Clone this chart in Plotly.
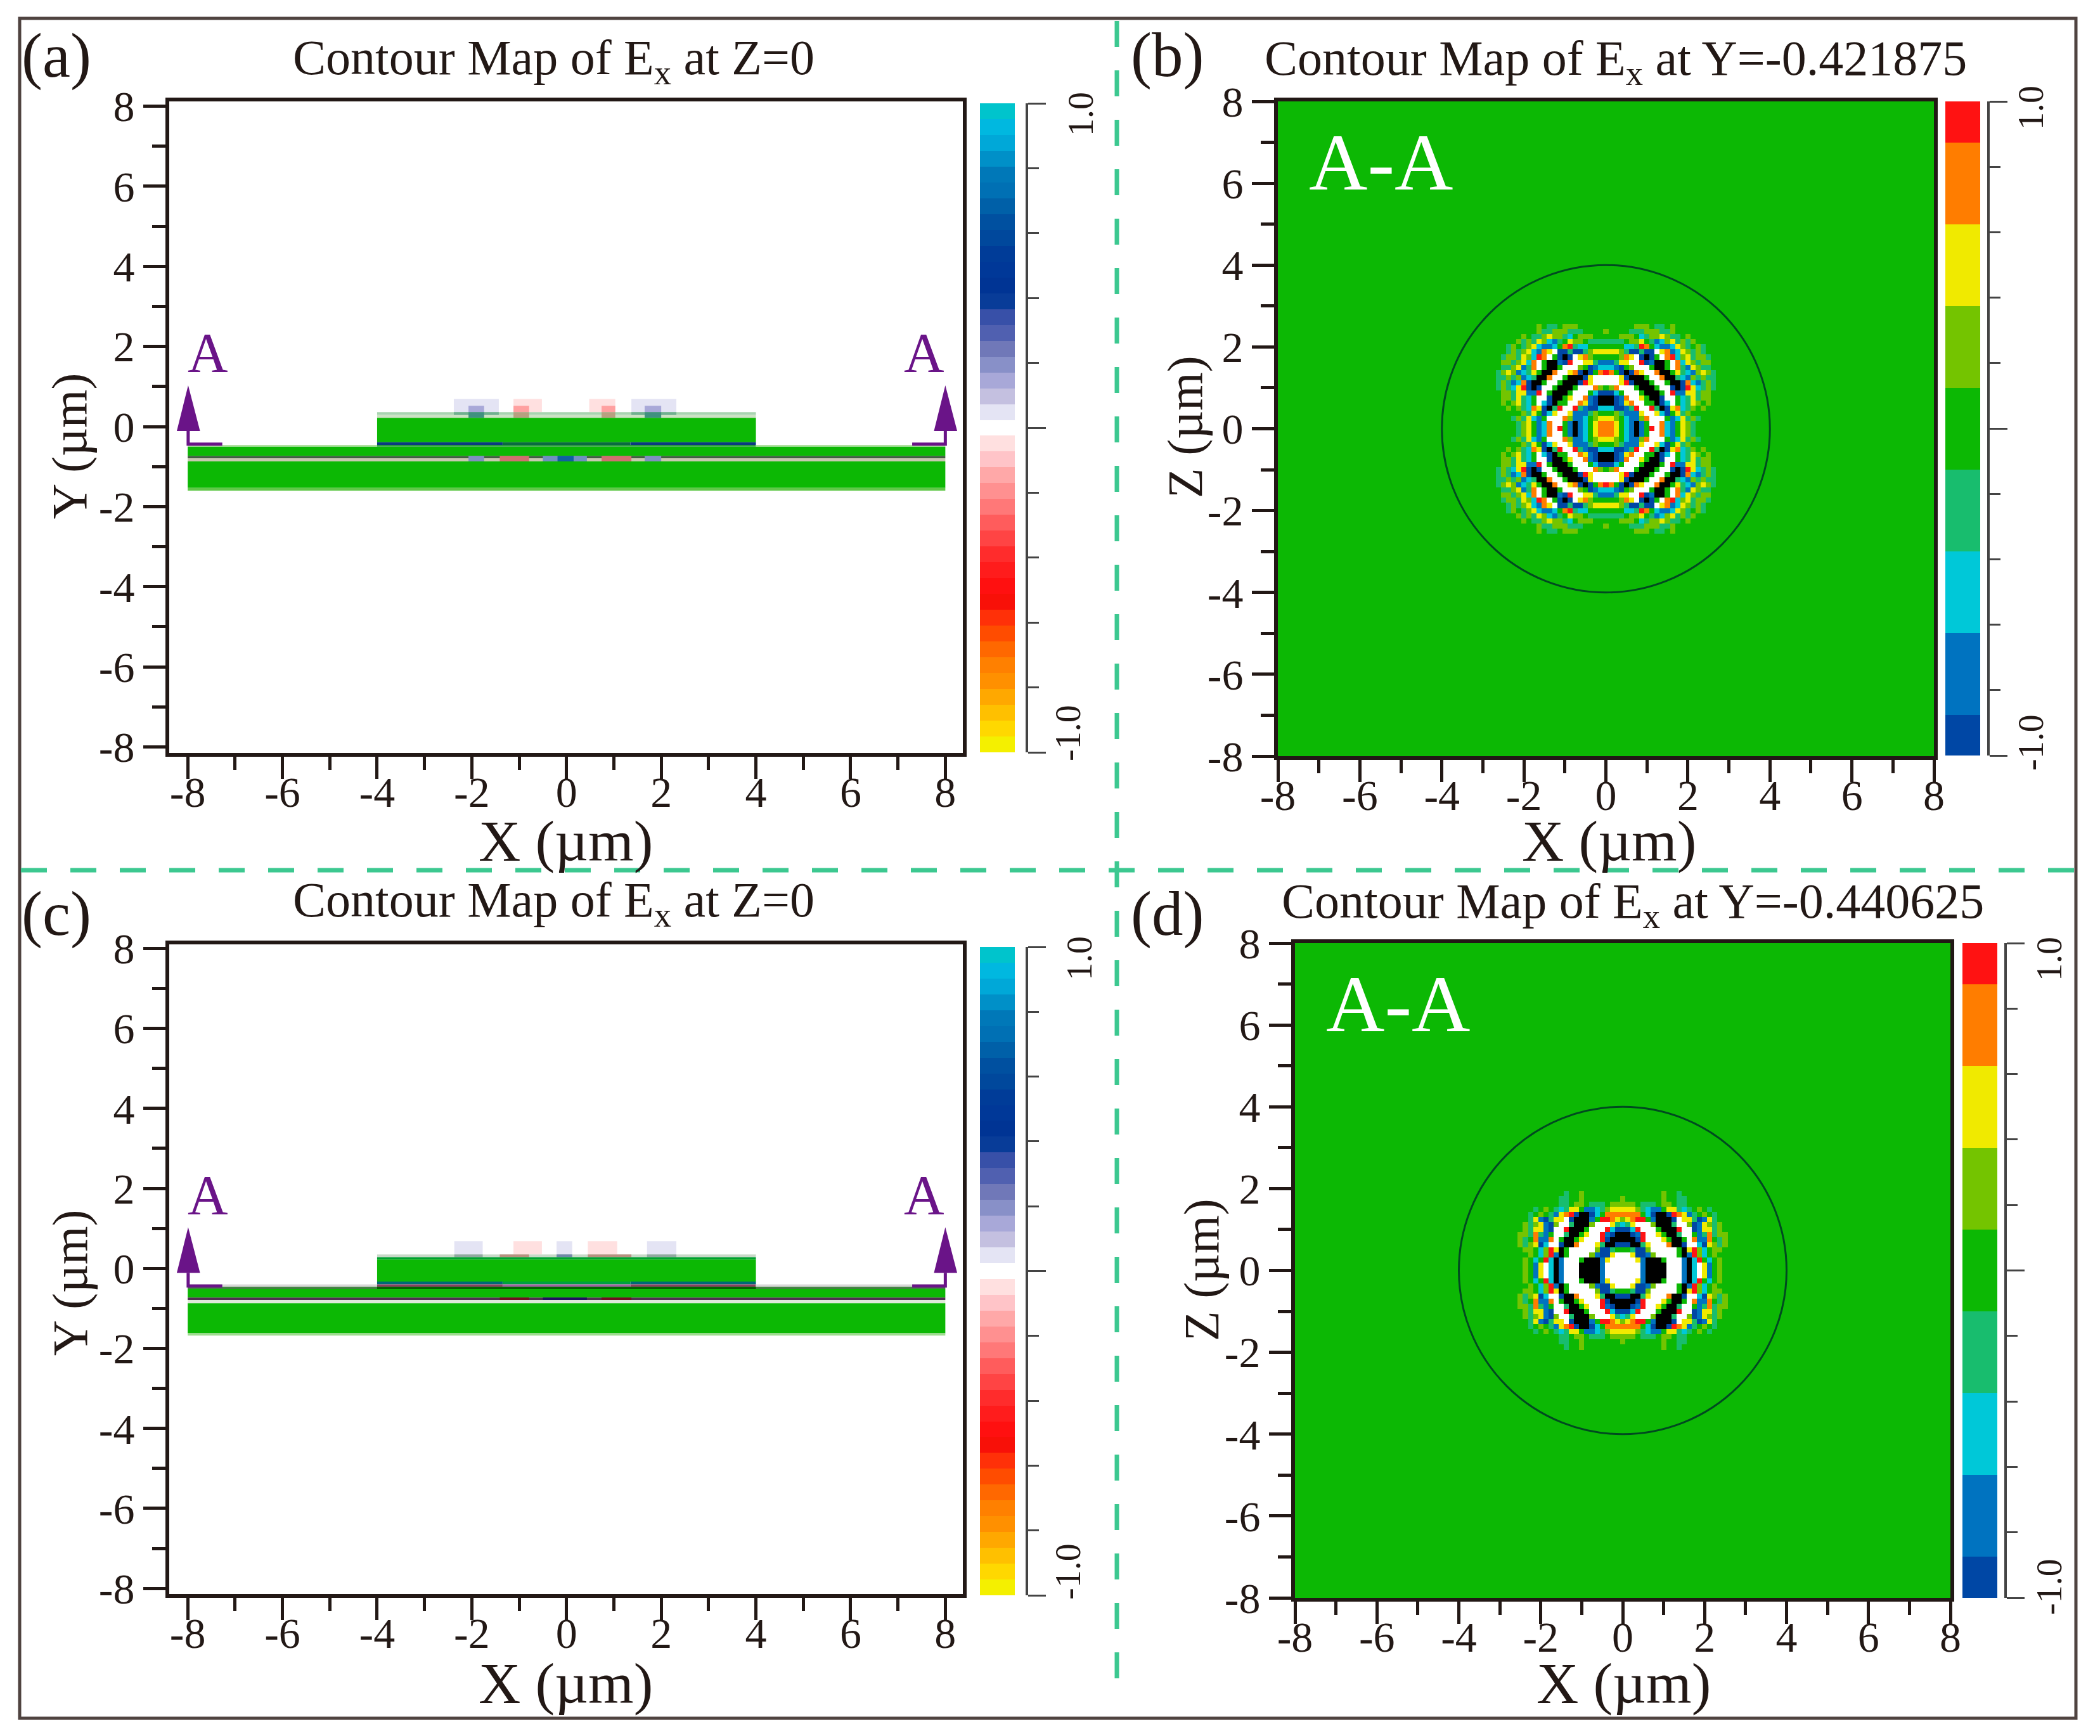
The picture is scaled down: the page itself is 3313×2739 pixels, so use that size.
import plotly.graph_objects as go

W, H = 3313, 2739
FONT = "Liberation Serif"
INK = "#221815"
GREEN = "#0cb804"
PURPLE = "#6a1488"

# ---------- data ----------
TICK_VALS = [-8, -6, -4, -2, 0, 2, 4, 6, 8]
TICK_TEXT = ["-8", "-6", "-4", "-2", "0", "2", "4", "6", "8"]
CELL = 0.125
CIRCLE_R = 4

FIELD_KEYS = {".": 0, "l": 1, "y": 2, "o": 3, "r": 4, "W": 5,
              "t": -1, "c": -2, "b": -3, "n": -4, "K": -5}
FIELD_COLORS = ["#000000", "#0047a5", "#0073c0", "#00c8d8", "#18bd6e", GREEN,
                "#74c400", "#f0ea00", "#ff7d00", "#ff1414", "#ffffff"]

# upper-right quadrant, row 0 is the centre row, column 0 the centre column
QUADRANT_B = [
    "ooy.cbKb.rWocb.ylt....",
    "ooy.cbKb.WWocb.ylt....",
    "yyl.cbbloWWW.bcytlt...",
    "..ltbbbyWWycn.ytl.....",
    "ccnnbtrWWrtKnyoctl.l..",
    "KKnbyoWW..KncW.ctyl.l.",
    "KKnboWWy.KKnWW.ctytll.",
    "nnc.WWW.KKK.Wrbbyytll.",
    ".loWWW.KKK.WWnKnryctlt",
    "WWWyrnKKK.WW.KKnocbtlt",
    "WWWynKKK.WWoKKtcbltltt",
    "ro.nKnoyWWoKK.ytcblylt",
    "ccbn.lWWW.KK.Wotbyltt.",
    "bbtyyWWrnbKK.Wocyltll.",
    "...loyWnKn.Worclytllt.",
    "yyyltnntnnWyobcyltlt..",
    "....cctro.cbbcylt.lt..",
    "tttt.lly.tbclytltl....",
    "...lll.ctllyltt.l.....",
    "l....tttlllttl........",
    "......lll.tt.l........",
]
QUADRANT_D = [
    "WWWWbKKKKWWWbKcWyb.l..",
    "WWWWbKKKKWWWbKcWyb.l..",
    "WWWybKKK.WWWbKcr.c.l..",
    "WWynnblWWWW.Kbrlc.l...",
    "..tnnlWWWWW.Kyrlc.ll..",
    "nnKKtyWWWoKKnWWcnyltl.",
    "KKKnrWWWy.KK.Wobbo.tl.",
    "KKnbrWWy.KKtWW.btotll.",
    "nncrWWW.KKKrWWnbyytl..",
    "ctyWWWlKKKtWWlnbyltl..",
    "lyorr.bKKKnWyytnbyt...",
    "oooo.cnKKnroybt.l.t...",
    "yyyltcbb.yytct.l.t....",
    "lll.ttt.ll.tt.........",
    "l.......l..tt.........",
    "........l..t..........",
]

BAR_LEVELS_RICH = [
    "#00c4cc", "#00b8e0", "#00a8d8", "#0090c8", "#0078b8", "#0070b4", "#0060a8",
    "#0050a0", "#00489c", "#003c98", "#003898", "#003494", "#083c98", "#3850a8",
    "#5060b0", "#7078b8", "#8890c8", "#a8a8d8", "#c4c0e0", "#e4e4f4", "#ffffff",
    "#ffe0e0", "#ffc4c8", "#ffa8a8", "#ff9090", "#ff7878", "#ff5c5c", "#ff4444",
    "#ff2c2c", "#ff1c1c", "#ff1010", "#f81008", "#ff3008", "#ff4c00", "#ff6800",
    "#ff8000", "#ff9000", "#ffa800", "#ffc000", "#ffd800", "#f4f000",
]
BAR_LEVELS_JET = ["#ff1212", "#ff7d00", "#f0ea00", "#74c400", GREEN,
                  "#18bd6e", "#00c8d8", "#0073c0", "#0047a5"]
BAR_EDGES_JET = [1, 0.875, 0.625, 0.375, 0.125, -0.125, -0.375, -0.625, -0.875, -1]

# x0, x1, y0, y1, colour of the device layers
LAYERS_A = [
    (-2.38, -1.43, 0.36, 0.69, "#e4e4f4"), (-1.12, -0.52, 0.36, 0.69, "#ffe0e0"),
    (0.48, 1.03, 0.36, 0.69, "#ffe0e0"), (1.37, 2.32, 0.36, 0.69, "#e4e4f4"),
    (-2.07, -1.74, 0.36, 0.52, "#a8a8d8"), (-1.12, -0.79, 0.36, 0.52, "#ffa0a0"),
    (0.74, 1.03, 0.36, 0.52, "#ffa0a0"), (1.65, 2.0, 0.36, 0.52, "#a8a8d8"),
    (-4, 4, 0.29, 0.36, "#a8d4b0"), (-4, 4, 0.22, 0.29, "#cce2c4"),
    (-2.38, -1.43, 0.29, 0.36, "#70b090"), (1.37, 2.32, 0.29, 0.36, "#70b090"),
    (-2.07, -1.74, 0.22, 0.36, "#409080"), (-1.12, -0.79, 0.22, 0.36, "#b8a080"),
    (0.74, 1.03, 0.22, 0.36, "#b8a080"), (1.65, 2.0, 0.22, 0.36, "#409080"),
    (-4, 4, -0.39, 0.22, GREEN),
    (-4, -1.35, -0.46, -0.39, "#0a3a80"), (-1.35, 1.35, -0.46, -0.39, "#0a6a40"),
    (1.35, 4, -0.46, -0.39, "#0a3a80"),
    (-8, -4, -0.50, -0.46, "#b0e0a0"), (-4, 4, -0.50, -0.46, "#2a9a40"),
    (4, 8, -0.50, -0.46, "#b0e0a0"),
    (-8, 8, -0.73, -0.50, GREEN),
    (-8, 8, -0.79, -0.73, "#406040"), (-8, 8, -0.87, -0.79, "#c8c8b0"),
    (-2.07, -1.74, -0.87, -0.73, "#8090c0"), (-1.41, -0.79, -0.87, -0.73, "#d07070"),
    (-0.5, 0.43, -0.87, -0.73, "#7090c0"), (-0.19, 0.15, -0.87, -0.73, "#1060a0"),
    (0.74, 1.37, -0.87, -0.73, "#d07070"), (1.65, 2.0, -0.87, -0.73, "#8090c0"),
    (-8, 8, -1.53, -0.87, GREEN), (-8, 8, -1.60, -1.53, "#60c848"),
]
LAYERS_C = [
    (-2.37, -1.77, 0.35, 0.68, "#e4e4f4"), (-1.12, -0.52, 0.35, 0.68, "#ffe0e0"),
    (-0.21, 0.12, 0.35, 0.68, "#e4e4f4"), (0.45, 1.07, 0.35, 0.68, "#ffe0e0"),
    (1.70, 2.32, 0.35, 0.68, "#e4e4f4"),
    (-4, 4, 0.28, 0.35, "#c8d8c8"),
    (-2.37, -1.77, 0.28, 0.35, "#90a8a0"), (-1.41, -0.79, 0.28, 0.35, "#b89080"),
    (-0.21, 0.12, 0.28, 0.35, "#7088a8"), (0.45, 1.37, 0.28, 0.35, "#b89080"),
    (1.70, 2.32, 0.28, 0.35, "#90a8a0"),
    (-4, 4, 0.22, 0.28, "#00a030"),
    (-4, 4, -0.33, 0.22, GREEN),
    (-4, -1.35, -0.40, -0.33, "#006878"), (-1.35, 1.35, -0.40, -0.33, "#00a040"),
    (1.35, 4, -0.40, -0.33, "#006878"),
    (-8, -4, -0.46, -0.40, "#d8d8d8"), (-4, -1.35, -0.46, -0.40, "#8a4060"),
    (-1.35, 1.35, -0.46, -0.40, "#a060a0"), (1.35, 4, -0.46, -0.40, "#8a4060"),
    (4, 8, -0.46, -0.40, "#d8d8d8"),
    (-8, 8, -0.52, -0.46, "#408040"), (-4, 4, -0.52, -0.46, "#006000"),
    (-8, 8, -0.73, -0.52, GREEN),
    (-8, 8, -0.79, -0.73, "#503050"), (-8, 8, -0.87, -0.79, "#e0e8d8"),
    (-0.5, 0.43, -0.79, -0.73, "#201060"), (-1.41, -0.79, -0.79, -0.73, "#701020"),
    (0.74, 1.37, -0.79, -0.73, "#701020"),
    (-8, 8, -1.62, -0.87, GREEN), (-8, 8, -1.68, -1.62, "#a0dc90"),
]

ARROW_HEAD_LEFT_X = [-8.23, -7.99, -7.74, -8.23]
ARROW_HEAD_RIGHT_X = [7.76, 8.0, 8.25, 7.76]
ARROW_HEAD_Y = [-0.11, 1.03, -0.11, -0.11]
ARROW_ARM_LEFT_X = [-7.27, -7.99, -7.99]
ARROW_ARM_RIGHT_X = [7.3, 8.0, 8.0]
ARROW_ARM_Y = [-0.44, -0.44, -0.11]


# ---------- helpers ----------
def fx(p):
    return p / W


def fy(p):
    return 1 - p / H


def step_scale(colors):
    n = len(colors)
    out = []
    for i, c in enumerate(colors):
        out += [[i / n, c], [(i + 1) / n, c]]
    return out


def expand(quadrant, half=64):
    size = 2 * half + 1
    grid = [[0] * size for _ in range(size)]
    for r, row in enumerate(quadrant):
        for c, ch in enumerate(row):
            v = FIELD_KEYS[ch]
            for sr in (-r, r):
                for sc in (-c, c):
                    grid[half + sr][half + sc] = v
    return grid


fig = go.Figure()
layout = {}
annotations = []
shapes = []
axis_no = [0]


def main_axes(x0, x1, y0, y1, xr, yr):
    axis_no[0] += 1
    n = axis_no[0]
    common = dict(
        showgrid=False, zeroline=False, showline=True, mirror=True, linewidth=6,
        linecolor=INK, ticks="outside", ticklen=35, tickwidth=5, tickcolor=INK,
        tickmode="array", tickvals=TICK_VALS, ticktext=TICK_TEXT,
        tickfont=dict(family=FONT, size=68, color=INK),
        minor=dict(ticks="outside", ticklen=21, tickwidth=5, tickcolor=INK,
                   tickmode="linear", tick0=0, dtick=1, showgrid=False),
        automargin=False,
    )
    layout[f"xaxis{n}"] = dict(common, domain=[fx(x0), fx(x1)], range=xr, anchor=f"y{n}",
                               ticklabelstandoff=-38)
    layout[f"yaxis{n}"] = dict(common, domain=[fy(y1), fy(y0)], range=yr, anchor=f"x{n}")
    return f"x{n}", f"y{n}"


def bar_axes(x0, x1, y0, y1, axis_x):
    axis_no[0] += 1
    n = axis_no[0]
    layout[f"xaxis{n}"] = dict(domain=[fx(x0), fx(x1)], range=[0, 1], visible=False,
                               anchor=f"y{n}")
    layout[f"yaxis{n}"] = dict(
        domain=[fy(y1), fy(y0)], range=[-1, 1], anchor="free", position=fx(axis_x),
        side="right", showgrid=False, zeroline=False, showline=True, linewidth=4,
        linecolor="#444444", ticks="outside", ticklen=28, tickwidth=3, tickcolor="#444444",
        tickmode="array", tickvals=[-1, 0, 1], showticklabels=False,
        minor=dict(ticks="outside", ticklen=17, tickwidth=3, tickcolor="#444444",
                   tickmode="linear", tick0=0, dtick=0.2, showgrid=False),
    )
    return f"x{n}", f"y{n}"


def add_rich_bar(xa, ya):
    n = len(BAR_LEVELS_RICH)
    edges = [1 - 2 * i / n for i in range(n + 1)]
    fig.add_trace(go.Heatmap(x=[0, 1], y=edges, z=[[i] for i in range(n)], xaxis=xa, yaxis=ya,
                             zmin=-0.5, zmax=n - 0.5, colorscale=step_scale(BAR_LEVELS_RICH),
                             showscale=False, hoverinfo="skip"))


def add_jet_bar(xa, ya):
    n = len(BAR_LEVELS_JET)
    fig.add_trace(go.Heatmap(x=[0, 1], y=BAR_EDGES_JET, z=[[i] for i in range(n)], xaxis=xa, yaxis=ya,
                             zmin=-0.5, zmax=n - 0.5, colorscale=step_scale(BAR_LEVELS_JET),
                             showscale=False, hoverinfo="skip"))


def add_section(xa, ya, layers):
    for x0, x1, y0, y1, col in layers:
        fig.add_trace(go.Scatter(x=[x0, x1, x1, x0, x0], y=[y0, y0, y1, y1, y0], mode="lines",
                                 fill="toself", fillcolor=col, line=dict(width=0),
                                 xaxis=xa, yaxis=ya, hoverinfo="skip", showlegend=False))
    for hx, ax in ((ARROW_HEAD_LEFT_X, ARROW_ARM_LEFT_X), (ARROW_HEAD_RIGHT_X, ARROW_ARM_RIGHT_X)):
        fig.add_trace(go.Scatter(x=hx, y=ARROW_HEAD_Y, mode="lines", fill="toself", fillcolor=PURPLE,
                                 line=dict(width=0), xaxis=xa, yaxis=ya, hoverinfo="skip",
                                 showlegend=False))
        fig.add_trace(go.Scatter(x=ax, y=ARROW_ARM_Y, mode="lines", line=dict(width=5, color=PURPLE),
                                 xaxis=xa, yaxis=ya, hoverinfo="skip", showlegend=False))
    for lx in (-7.58, 7.55):
        annotations.append(dict(x=lx, y=1.84, xref=xa, yref=ya, text="A", showarrow=False,
                                font=dict(family=FONT, size=88, color=PURPLE)))


def add_field(xa, ya, quadrant):
    half = 64
    coords = [(i - half) * CELL for i in range(2 * half + 1)]
    fig.add_trace(go.Heatmap(x=coords, y=coords, z=expand(quadrant, half), xaxis=xa, yaxis=ya,
                             zmin=-5.5, zmax=5.5, colorscale=step_scale(FIELD_COLORS),
                             showscale=False, hoverinfo="skip"))
    shapes.append(dict(type="circle", xref=xa, yref=ya, x0=-CIRCLE_R, x1=CIRCLE_R,
                       y0=-CIRCLE_R, y1=CIRCLE_R, line=dict(color="#004a20", width=3)))
    annotations.append(dict(x=-5.48, y=6.52, xref=xa, yref=ya, text="A-A", showarrow=False,
                            font=dict(family=FONT, size=128, color="#ffffff")))


def paper_text(px, py, text, size, angle=0, color=INK):
    annotations.append(dict(x=fx(px), y=fy(py), xref="paper", yref="paper", text=text, showarrow=False,
                            textangle=angle, font=dict(family=FONT, size=size, color=color),
                            xanchor="center", yanchor="middle"))


# panel a
xa, ya = main_axes(267, 1519, 160, 1188, [-8.39, 8.37], [-8.15, 8.12])
add_section(xa, ya, LAYERS_A)
bx, by = bar_axes(1546, 1601, 163, 1187, 1620)
add_rich_bar(bx, by)

# panel b
xa, ya = main_axes(2016, 3051, 160, 1193, [-8, 8], [-8, 8])
add_field(xa, ya, QUADRANT_B)
bx, by = bar_axes(3069, 3124, 160, 1192, 3137)
add_jet_bar(bx, by)

# panel c
xa, ya = main_axes(267, 1519, 1490, 2515, [-8.39, 8.37], [-8.14, 8.1])
add_section(xa, ya, LAYERS_C)
bx, by = bar_axes(1546, 1601, 1494, 2517, 1620)
add_rich_bar(bx, by)

# panel d
xa, ya = main_axes(2043, 3077, 1488, 2521, [-8, 8], [-8, 8])
add_field(xa, ya, QUADRANT_D)
bx, by = bar_axes(3096, 3151, 1488, 2521, 3164)
add_jet_bar(bx, by)

# titles and panel letters
paper_text(873, 96, "Contour Map of E<sub>x</sub> at Z=0", 78)
paper_text(2549, 97, "Contour Map of E<sub>x</sub> at Y=-0.421875", 78)
paper_text(873, 1425, "Contour Map of E<sub>x</sub> at Z=0", 78)
paper_text(2576, 1427, "Contour Map of E<sub>x</sub> at Y=-0.440625", 78)
paper_text(89, 88, "(a)", 99)
paper_text(1841, 87, "(b)", 99)
paper_text(89, 1442, "(c)", 99)
paper_text(1841, 1442, "(d)", 99)

# axis titles
paper_text(892, 1327, "X (µm)", 92)
paper_text(110, 704, "Y (µm)", 78, angle=-90)
paper_text(2538, 1327, "X (µm)", 92)
paper_text(1870, 674, "Z (µm)", 78, angle=-90)
paper_text(892, 2656, "X (µm)", 92)
paper_text(110, 2024, "Y (µm)", 78, angle=-90)
paper_text(2561, 2656, "X (µm)", 92)
paper_text(1895, 2003, "Z (µm)", 78, angle=-90)

# colour bar end labels
for px, py, t in [(1705, 180, "1.0"), (1685, 1157, "-1.0"), (3204, 170, "1.0"), (3204, 1172, "-1.0"),
                  (1703, 1512, "1.0"), (1685, 2480, "-1.0"), (3233, 1513, "1.0"), (3233, 2504, "-1.0")]:
    paper_text(px, py, t, 56, angle=-90)

# outer frame and dashed dividers
shapes.append(dict(type="rect", xref="paper", yref="paper", x0=fx(31), x1=fx(3275), y0=fy(2711), y1=fy(29),
                   line=dict(color="#4f4340", width=5), layer="above"))
shapes.append(dict(type="line", xref="paper", yref="paper", x0=fx(1762), x1=fx(1762), y0=fy(33), y1=fy(2680),
                   line=dict(color="#3cc890", width=7, dash="41px,37px")))
shapes.append(dict(type="line", xref="paper", yref="paper", x0=fx(33), x1=fx(3273), y0=fy(1373), y1=fy(1373),
                   line=dict(color="#3cc890", width=7, dash="41px,37px")))

fig.update_layout(width=W, height=H, margin=dict(l=0, r=0, t=0, b=0), showlegend=False,
                  plot_bgcolor="#ffffff", paper_bgcolor="#ffffff",
                  annotations=annotations, shapes=shapes, **layout)
fig.write_html("out.html", config={"displayModeBar": False},
               post_script="document.body.style.margin='0';")
